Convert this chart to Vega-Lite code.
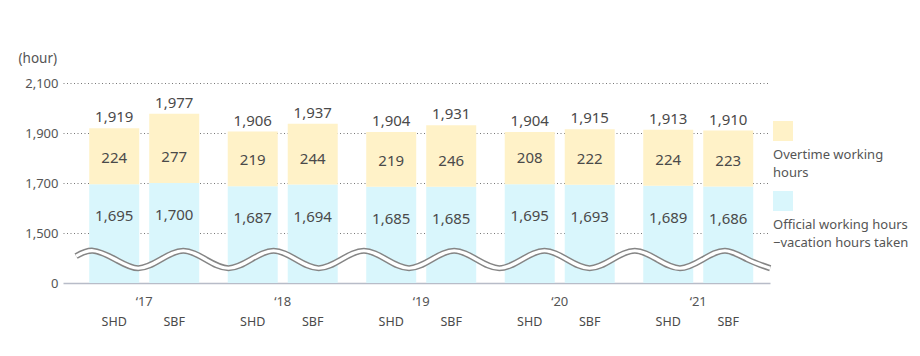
{
  "$schema": "https://vega.github.io/schema/vega-lite/v6.json",
  "background": "white",
  "padding": {"left": 18, "top": 51, "right": 0, "bottom": 0},
  "bounds": "flush",
  "spacing": 3,
  "config": {
    "font": "Noto Sans",
    "view": {"stroke": null},
    "axis": {"labelFont": "Noto Sans", "titleFont": "Noto Sans"}
  },
  "datasets": {
    "hours": [
      {"year": "‘17", "company": "SHD", "official": 1695, "overtime": 224, "total": 1919},
      {"year": "‘17", "company": "SBF", "official": 1700, "overtime": 277, "total": 1977},
      {"year": "‘18", "company": "SHD", "official": 1687, "overtime": 219, "total": 1906},
      {"year": "‘18", "company": "SBF", "official": 1694, "overtime": 244, "total": 1937},
      {"year": "‘19", "company": "SHD", "official": 1685, "overtime": 219, "total": 1904},
      {"year": "‘19", "company": "SBF", "official": 1685, "overtime": 246, "total": 1931},
      {"year": "‘20", "company": "SHD", "official": 1695, "overtime": 208, "total": 1904},
      {"year": "‘20", "company": "SBF", "official": 1693, "overtime": 222, "total": 1915},
      {"year": "‘21", "company": "SHD", "official": 1689, "overtime": 224, "total": 1913},
      {"year": "‘21", "company": "SBF", "official": 1686, "overtime": 223, "total": 1910}
    ],
    "wave": [
      {"u": -0.75, "v": 1407.4},
      {"u": 0, "v": 1429}, {"u": 1, "v": 1394}, {"u": 2, "v": 1359}, {"u": 3, "v": 1394},
      {"u": 4, "v": 1429}, {"u": 5, "v": 1394}, {"u": 6, "v": 1359}, {"u": 7, "v": 1394},
      {"u": 8, "v": 1429}, {"u": 9, "v": 1394}, {"u": 10, "v": 1359}, {"u": 11, "v": 1394},
      {"u": 12, "v": 1429}, {"u": 13, "v": 1394}, {"u": 14, "v": 1359}, {"u": 15, "v": 1394},
      {"u": 16, "v": 1429}, {"u": 17, "v": 1394}, {"u": 18, "v": 1359}, {"u": 19, "v": 1394},
      {"u": 20, "v": 1429}, {"u": 21, "v": 1394}, {"u": 22, "v": 1359}, {"u": 23, "v": 1394},
      {"u": 24, "v": 1429}, {"u": 25, "v": 1394}, {"u": 26, "v": 1359}, {"u": 27, "v": 1394},
      {"u": 28, "v": 1429}, {"u": 29, "v": 1394}, {"u": 30, "v": 1359}
    ],
    "legend": [
      {"series": "Overtime working hours", "label": ["Overtime working", "hours"]},
      {"series": "Official working hours −vacation hours taken", "label": ["Official working hours", "−vacation hours taken"]}
    ]
  },
  "hconcat": [
    {
      "width": 707,
      "height": 200,
      "layer": [
        {
          "data": {"name": "hours"},
          "encoding": {
            "x": {
              "field": "year", "type": "nominal", "sort": null,
              "scale": {"paddingInner": 0.2058, "paddingOuter": 0.1552, "align": 0.61},
              "axis": {
                "title": null, "labelAngle": 0, "ticks": false,
                "domain": true, "domainColor": "#b8bcc8", "domainWidth": 1.5,
                "labelPadding": 12, "labelFontSize": 13, "labelColor": "#555"
              }
            },
            "xOffset": {
              "field": "company", "type": "nominal", "sort": null,
              "scale": {"paddingInner": 0.1667, "paddingOuter": 0}
            }
          },
          "layer": [
            {
              "mark": {"type": "bar", "color": "#D9F6FC"},
              "encoding": {
                "y": {
                  "field": "official", "type": "quantitative",
                  "scale": {"domain": [1300, 2100], "zero": false, "nice": false},
                  "axis": {
                    "values": [1300, 1500, 1700, 1900, 2100],
                    "labelExpr": "datum.value == 1300 ? '0' : format(datum.value, ',')",
                    "title": "(hour)", "titleAngle": 0, "titleAlign": "left", "titleBaseline": "middle",
                    "titleX": -45, "titleY": -25, "titleFontSize": 13.5, "titleFontWeight": "normal", "titleColor": "#555",
                    "domain": false, "ticks": false, "labelPadding": 5,
                    "labelFontSize": 13, "labelColor": "#555",
                    "grid": true, "gridColor": "#777", "gridDash": [1, 2.5], "gridWidth": 1,
                    "gridOpacity": {"condition": {"test": "datum.value == 1300", "value": 0}, "value": 1}
                  }
                },
                "y2": {"datum": 1300}
              }
            },
            {
              "mark": {"type": "bar", "color": "#FFF2C8"},
              "encoding": {
                "y": {"field": "total", "type": "quantitative"},
                "y2": {"field": "official"}
              }
            },
            {
              "mark": {"type": "text", "baseline": "alphabetic", "dy": -6, "fontSize": 15, "color": "#4a4a4a"},
              "encoding": {
                "y": {"field": "total", "type": "quantitative"},
                "text": {"field": "total", "type": "quantitative", "format": ","}
              }
            },
            {
              "mark": {"type": "text", "baseline": "middle", "dy": -26, "fontSize": 15, "color": "#4a4a4a"},
              "encoding": {
                "y": {"field": "official", "type": "quantitative"},
                "text": {"field": "overtime", "type": "quantitative", "format": ","}
              }
            },
            {
              "mark": {"type": "text", "baseline": "middle", "dy": 32, "fontSize": 15, "color": "#4a4a4a"},
              "encoding": {
                "y": {"field": "official", "type": "quantitative"},
                "text": {"field": "official", "type": "quantitative", "format": ","}
              }
            },
            {
              "mark": {"type": "text", "baseline": "middle", "fontSize": 12.5, "letterSpacing": 1.5, "color": "#4a4a4a"},
              "encoding": {
                "y": {"datum": 1145},
                "text": {"field": "company", "type": "nominal"}
              }
            }
          ]
        },
        {
          "data": {"name": "wave"},
          "encoding": {
            "x": {"field": "u", "type": "quantitative", "scale": {"domain": [-1.329, 29.99], "nice": false, "zero": false}, "axis": null},
            "y": {"field": "v", "type": "quantitative"}
          },
          "layer": [
            {"mark": {"type": "line", "interpolate": "natural", "color": "#858585", "strokeWidth": 6.2}},
            {"mark": {"type": "line", "interpolate": "natural", "color": "#ffffff", "strokeWidth": 3.2}}
          ]
        }
      ],
      "resolve": {"scale": {"x": "independent"}, "axis": {"x": "independent"}}
    },
    {
      "width": 20,
      "height": 200,
      "data": {"name": "legend"},
      "encoding": {
        "y": {"field": "series", "type": "nominal", "sort": null, "scale": {"type": "point", "range": [48, 118], "padding": 0}, "axis": null}
      },
      "layer": [
        {
          "mark": {"type": "square", "size": 400, "opacity": 1, "filled": true},
          "encoding": {
            "color": {"field": "series", "type": "nominal", "sort": null, "scale": {"range": ["#FFF2C8", "#D9F6FC"]}, "legend": null}
          }
        },
        {
          "mark": {"type": "text", "align": "left", "baseline": "top", "dx": -10, "dy": 18, "fontSize": 13, "lineHeight": 18, "color": "#555"},
          "encoding": {"text": {"field": "label", "type": "nominal"}}
        }
      ]
    }
  ]
}
